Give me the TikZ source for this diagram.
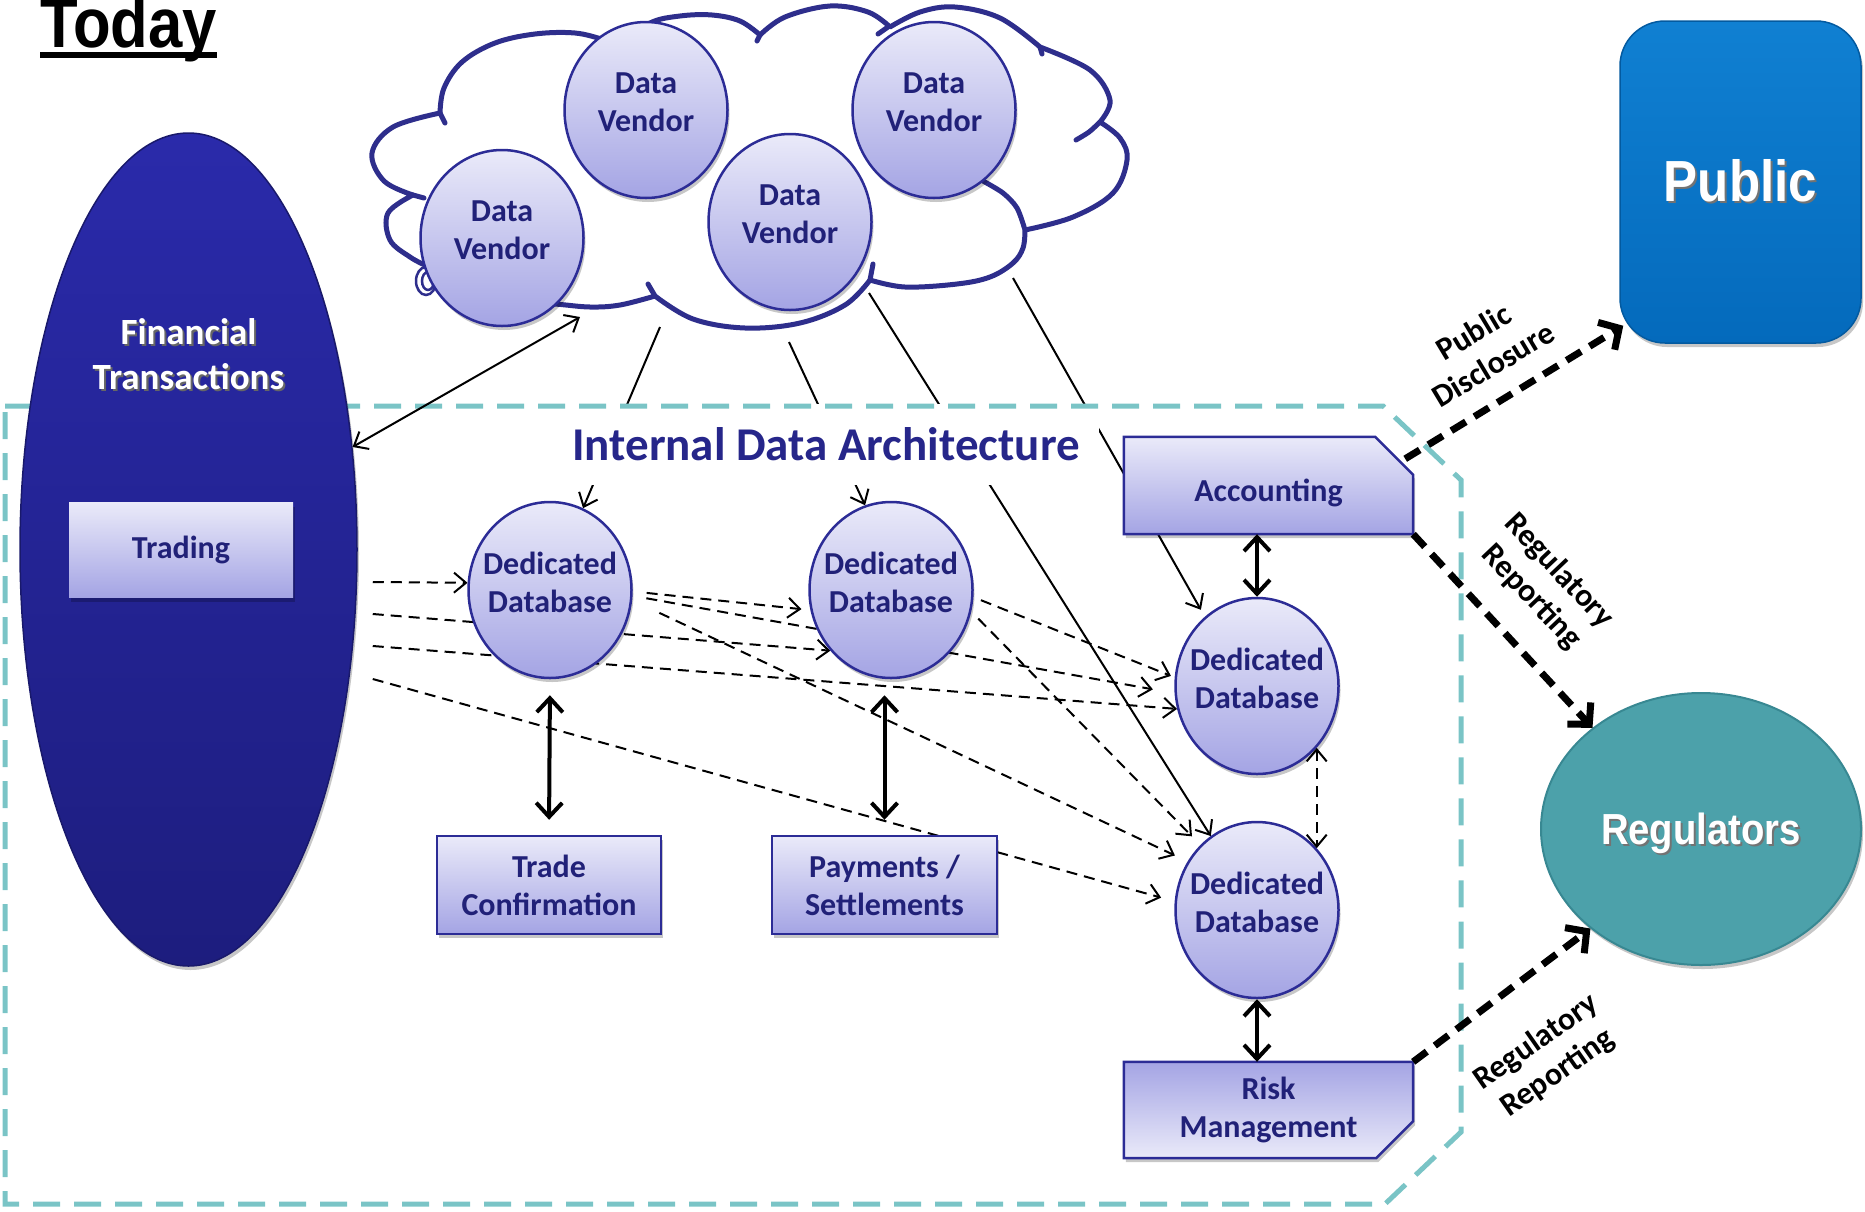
\documentclass[tikz,border=0pt]{standalone}
\usepackage{fontspec}
\setmainfont{Carlito}
\newfontfamily\heavysans{Liberation Sans}[FakeStretch=0.88]
\usetikzlibrary{shapes.geometric,arrows.meta,calc,shadows}

\definecolor{navy}{RGB}{33,33,120}
\definecolor{titleblue}{RGB}{38,38,138}
\definecolor{bubbletop}{RGB}{234,234,249}
\definecolor{bubblebot}{RGB}{164,164,228}
\definecolor{bubbleline}{RGB}{44,44,150}
\definecolor{cloudblue}{RGB}{46,46,140}
\definecolor{fttop}{RGB}{42,42,170}
\definecolor{ftbot}{RGB}{29,29,126}
\definecolor{pubtop}{RGB}{16,128,210}
\definecolor{pubbot}{RGB}{4,106,188}
\definecolor{regfill}{RGB}{76,161,170}
\definecolor{regline}{RGB}{56,136,146}
\definecolor{tealdash}{RGB}{122,196,198}

% text with a soft offset copy behind it
\newcommand{\dropped}[2]{\leavevmode\rlap{\raisebox{-2pt}{\hspace{2pt}\textcolor{#1}{#2}}}#2}
\newcommand{\dbfont}{\bfseries\fontsize{32}{38}\selectfont}

\pgfdeclarelayer{cloudlayer}
\pgfdeclarelayer{links}
\pgfdeclarelayer{panels}
\pgfsetlayers{cloudlayer,links,panels,main}

\tikzset{
  softshadow/.style={drop shadow={shadow xshift=2pt, shadow yshift=-4pt, opacity=0.22, fill=black}},
  bubble/.style={ellipse, draw=bubbleline, line width=2.5pt, top color=bubbletop, bottom color=bubblebot,
    minimum width=163pt, minimum height=176pt, inner xsep=-16pt, inner ysep=0pt, align=center, text=navy, font=\dbfont,
    text depth=15pt, softshadow},
  panel/.style={draw=bubbleline, line width=2.5pt, softshadow},
  plainbox/.style={rectangle, draw=bubbleline, line width=2.5pt, top color=bubbletop, bottom color=bubblebot,
    minimum width=224pt, minimum height=98pt, inner sep=0pt, align=center, text=navy, font=\dbfont, softshadow},
  paneltext/.style={rectangle, minimum width=289pt, minimum height=97pt, inner sep=0pt, align=center, text=navy, font=\dbfont},
  cloudline/.style={draw=cloudblue, line width=5pt, line join=round},
  cloudtick/.style={draw=cloudblue, line width=5pt, line cap=round},
  thinarrow/.style={line width=2pt, -{Straight Barb[length=12pt,width=20pt]}},
  thindash/.style={thinarrow, dash pattern=on 11pt off 7pt},
  thickdouble/.style={line width=4pt, {Straight Barb[length=14pt,width=26pt]}-{Straight Barb[length=14pt,width=26pt]}},
  thickdash/.style={line width=7pt, dash pattern=on 17pt off 10pt, -{Straight Barb[length=15pt,width=32pt]}},
  arrowlabel/.style={align=center, font=\bfseries\fontsize{32}{38}\selectfont, inner sep=0pt},
}

\begin{document}
\begin{tikzpicture}[x=1pt,y=-1pt]
\useasboundingbox (0,0) rectangle (1865,1211);

% ---------- heading ----------
\node[anchor=base west, inner sep=0pt, font=\heavysans\bfseries\fontsize{70}{74}\selectfont] (today) at (40,47) {Today};
\draw[line width=6pt] ([yshift=-8pt]today.base west) -- ([yshift=-8pt]today.base east);

% ---------- vendor cloud ----------
\begin{pgfonlayer}{cloudlayer}
\path[cloudline, fill=white] (413,195)
  -- plot[smooth, tension=0.6] coordinates {(413,195) (384,181) (372,153) (393,127) (440,113)}
  -- plot[smooth, tension=0.6] coordinates {(440,113) (444,88) (462,62) (495,43) (535,34) (575,33) (605,40) (622,45)}
  -- plot[smooth, tension=0.6] coordinates {(622,45) (650,23) (680,16) (712,15) (740,21) (760,35)}
  -- plot[smooth, tension=0.6] coordinates {(760,35) (785,17) (830,6) (868,12) (890,27)}
  -- plot[smooth, tension=0.6] coordinates {(890,27) (920,12) (955,7) (1000,18) (1040,47)}
  -- plot[smooth, tension=0.6] coordinates {(1040,47) (1090,70) (1110,100) (1100,122)}
  -- plot[smooth, tension=0.6] coordinates {(1100,122) (1120,138) (1127,160) (1113,193) (1073,217) (1025,230)}
  -- plot[smooth, tension=0.6] coordinates {(1025,230) (1023,248) (1013,263) (990,277) (957,284) (905,287) (870,280)}
  -- plot[smooth, tension=0.6] coordinates {(870,280) (845,305) (800,323) (745,328) (693,319) (655,296)}
  -- plot[smooth, tension=0.6] coordinates {(655,296) (620,305) (590,307) (555,304) (500,300) (455,285) (427,266)}
  -- plot[smooth, tension=0.6] coordinates {(427,266) (410,257) (390,240) (388,213) (413,195)}
  -- cycle;
\draw[cloudtick] (440,113) -- (445,123);
\draw[cloudtick] (760,35) -- (757,41);
\draw[cloudtick] (888,27) -- (878,34);
\draw[cloudtick] (1040,47) -- (1042,54);
\draw[cloudtick] plot[smooth] coordinates {(1100,122) (1089,132) (1076,140)};
\draw[cloudtick] plot[smooth] coordinates {(983,181) (1003,193) (1017,208) (1025,230)};
\draw[cloudtick] (870,280) -- (873,264);
\draw[cloudtick] (655,296) -- (648,284);
\draw[cloudtick] (413,195) -- (424,198);
\draw[draw=cloudblue, line width=2.5pt] (426,281) ellipse [x radius=10, y radius=14];
\draw[draw=cloudblue, line width=2.5pt] (428,281) ellipse [x radius=6, y radius=9];
\end{pgfonlayer}

\node[bubble] (dv1) at (502,238) {Data\\Vendor};
\node[bubble] (dv2) at (646,110) {Data\\Vendor};
\node[bubble] (dv3) at (790,222) {Data\\Vendor};
\node[bubble] (dv4) at (934,110) {Data\\Vendor};

% ---------- internal architecture ----------
\node[fill=white, minimum width=545pt, minimum height=81pt, inner sep=0pt, text=titleblue,
      font=\bfseries\fontsize{47}{56}\selectfont] (title) at (826,444.5) {Internal Data Architecture};

\draw[draw=tealdash, line width=5pt, dash pattern=on 27pt off 14pt]
  (5,406) -- (1383,406) -- (1461,480) -- (1461,1132) -- (1385,1204) -- (5,1204) -- cycle;

\node[ellipse, minimum width=337pt, minimum height=833pt, inner sep=0pt, top color=fttop, bottom color=ftbot,
      draw=ftbot!85!black, line width=1.5pt, softshadow] (ft) at (188.5,549.5) {};
\node[align=center, text=white, font=\bfseries\fontsize{37}{45}\selectfont, inner sep=0pt] (ftlabel) at (188.5,355)
  {\dropped{black!60}{Financial}\\\dropped{black!60}{Transactions}};
\node[rectangle, minimum width=224pt, minimum height=95pt, inner sep=0pt, top color=bubbletop, bottom color=bubblebot,
      text=navy, font=\dbfont, softshadow] (trading) at (181,550) {Trading};

\node[bubble] (dd1) at (550,590) {Dedicated\\Database};
\node[bubble] (dd2) at (891,590) {Dedicated\\Database};
\node[bubble] (dd3) at (1257,686) {Dedicated\\Database};
\node[bubble] (dd4) at (1257,910) {Dedicated\\Database};

\node[plainbox] (trade) at (549,885) {Trade\\Confirmation};
\node[plainbox, minimum width=225pt] (pay) at (884.5,885) {Payments /\\Settlements};

\node[paneltext, text height=31pt, text depth=0pt] (acc) at (1268.5,485.5) {Accounting};
\node[paneltext, minimum height=96pt] (risk) at (1268.5,1110) {Risk\\Management};

\begin{pgfonlayer}{panels}
\draw[panel, top color=bubbletop, bottom color=bubblebot]
  (acc.north west) -- ([xshift=-38pt]acc.north east) -- ([yshift=-38pt]acc.north east)
  -- (acc.east |- acc.south) -- (acc.south west) -- cycle;
\draw[panel, top color=bubblebot, bottom color=bubbletop]
  (risk.north west) -- (risk.east |- risk.north) -- ([yshift=37pt]risk.south east)
  -- ([xshift=-37pt]risk.south east) -- (risk.south west) -- cycle;
\end{pgfonlayer}

% ---------- outside parties ----------
\node[rectangle, rounded corners=45pt, minimum width=241pt, minimum height=322pt, inner sep=0pt,
      top color=pubtop, bottom color=pubbot, draw=pubbot!85!black, line width=1.5pt, softshadow,
      text=white, font=\heavysans\bfseries\fontsize{58}{64}\selectfont] (public) at (1740.5,182)
  {\dropped{black!55}{Public}};
\node[ellipse, minimum width=320pt, minimum height=272pt, inner sep=0pt, fill=regfill, draw=regline,
      line width=2pt, softshadow, text=white, text depth=0pt,
      font=\heavysans\bfseries\fontsize{43.5}{50}\selectfont] (reg) at (1701,829)
  {\dropped{black!55}{Regulators}};

% ---------- free ends of connectors ----------
\coordinate (c1) at (660,327);
\coordinate (c2) at (789,342);
\coordinate (c3) at (869,293);
\coordinate (c4) at (1013,278);
\coordinate (cfoot) at (580,317);
\coordinate (ft1) at ($(ft.east)+(15,32.5)$);
\coordinate (ft2) at ($(ft.east)+(15,64.5)$);
\coordinate (ft3) at ($(ft.east)+(15,96.5)$);
\coordinate (ft4) at ($(ft.east)+(15,129.5)$);

% ---------- data flows ----------
\begin{pgfonlayer}{links}
\draw[thinarrow] (c1) -- (dd1.68);
\draw[thinarrow] (c2) -- (dd2.107);
\draw[thinarrow] (c3) -- (dd4.122);
\draw[thinarrow, shorten >=8pt] (c4) -- (dd3.127);

\draw[thindash] (ft1) -- (dd1.175);
\draw[thindash] (ft2) -- (dd2.225);
\draw[thindash] (ft3) -- (dd3.196);
\draw[thindash, shorten >=14pt] (ft4) -- (dd4.174);

\draw[thindash, shorten <=14pt, shorten >=9pt] (dd1.-1) -- (dd2.194);
\draw[thindash, shorten <=14pt, shorten >=22pt] (dd1.-4) -- (dd3.185);
\draw[thindash, shorten <=30pt, shorten >=14pt] (dd1.-7) -- (dd4.145);
\draw[thindash, shorten <=8pt, shorten >=4pt] (dd2.-5) -- (dd3.174);
\draw[thindash, shorten <=10pt, shorten >=12pt] (dd2.-15) -- (dd4.131);
\end{pgfonlayer}

\draw[thindash, {Straight Barb[length=12pt,width=20pt]}-{Straight Barb[length=12pt,width=20pt]}]
  (dd3.-46.6) -- (dd4.46.6);
\draw[line width=2pt, {Straight Barb[length=12pt,width=20pt]}-{Straight Barb[length=12pt,width=20pt]}]
  (ft.32) -- (cfoot);

\draw[thickdouble, shorten <=16pt, shorten >=15pt] (dd1.south) -- (trade.north);
\draw[thickdouble, shorten <=16pt, shorten >=15pt] (pay.north |- dd2.south) -- (pay.north);
\draw[thickdouble] (dd3.north |- acc.south) -- (dd3.north);
\draw[thickdouble] (dd4.south) -- (dd4.south |- risk.north);

% ---------- reporting ----------
\draw[thickdash] ($(acc.north east)+(-8,22)$) -- ($(public.south west)+(4,-18)$);
\draw[thickdash] (acc.east |- acc.south) -- (reg.137);
\draw[thickdash] (risk.east |- risk.north) -- (reg.222);

\node[arrowlabel, rotate=31] (lpub) at (1483,348) {Public\\Disclosure};
\node[arrowlabel, rotate=-46.5] (lreg1) at (1545,584) {Regulatory\\Reporting};
\node[arrowlabel, rotate=35] (lreg2) at (1547,1058) {Regulatory\\Reporting};
\end{tikzpicture}
\end{document}
